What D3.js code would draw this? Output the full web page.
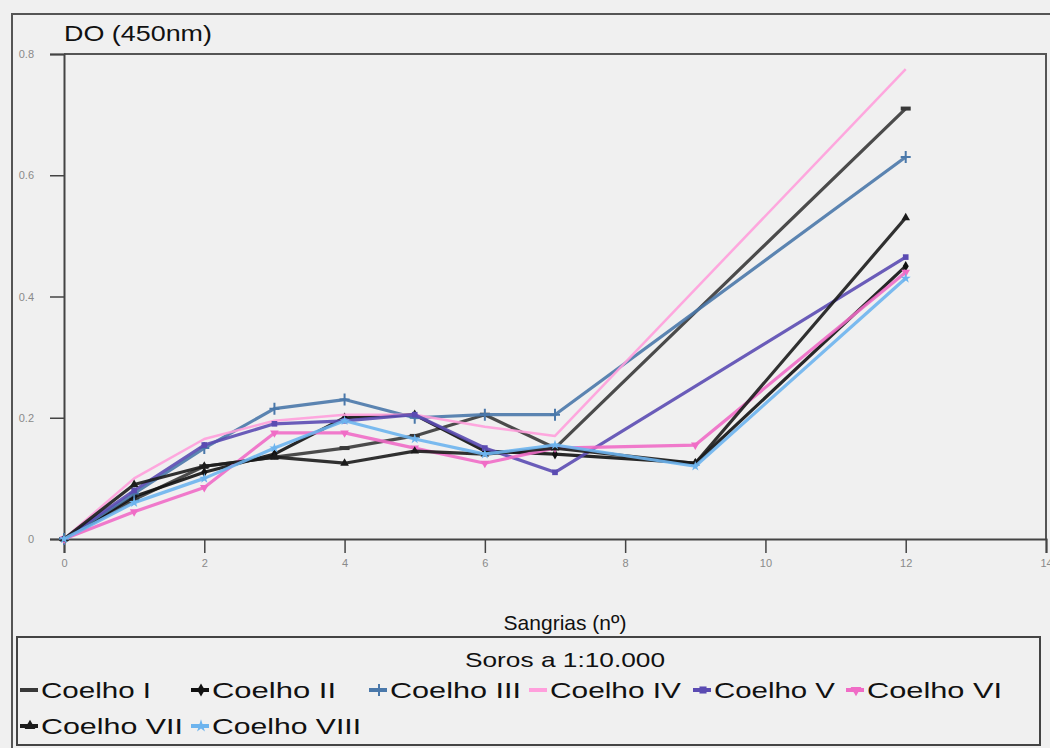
<!DOCTYPE html>
<html lang="pt">
  <head>
    <meta charset="UTF-8" />
    <title>DO (450nm) - Sangrias</title>
    <script src="https://d3js.org/d3.v7.min.js"></script>
    <style>
      body { margin: 0; background: #f0f0f0; }
      svg { display: block; font-family: "Liberation Sans", Arial, sans-serif; }
    </style>
  </head>
  <body>
    <svg id="chart" width="1050" height="748"></svg>
    <script>
      // bleedings (x) and optical density per rabbit; null = not measured
      const sangrias = [0, 1, 2, 3, 4, 5, 6, 7, 9, 12];
      const coelhoI = [0, 0.065, 0.12, 0.135, 0.15, 0.17, 0.205, 0.15, null, 0.71];
      const coelhoII = [0, 0.07, 0.11, 0.14, 0.2, 0.205, 0.145, 0.14, 0.125, 0.45];
      const coelhoIII = [0, 0.075, 0.15, 0.215, 0.23, 0.2, 0.205, 0.205, null, 0.63];
      const coelhoIV = [0, 0.1, 0.165, 0.195, 0.205, 0.205, 0.185, 0.17, null, 0.775];
      const coelhoV = [0, 0.08, 0.155, 0.19, 0.195, 0.205, 0.15, 0.11, null, 0.465];
      const coelhoVI = [0, 0.045, 0.085, 0.175, 0.175, 0.15, 0.125, 0.15, 0.155, 0.44];
      const coelhoVII = [0, 0.09, 0.12, 0.135, 0.125, 0.145, 0.14, 0.15, 0.125, 0.53];
      const coelhoVIII = [0, 0.06, 0.1, 0.15, 0.195, 0.165, 0.14, 0.155, 0.12, 0.43];

      const seriesNames = ["Coelho I", "Coelho II", "Coelho III", "Coelho IV",
        "Coelho V", "Coelho VI", "Coelho VII", "Coelho VIII"];
      const seriesValues = [coelhoI, coelhoII, coelhoIII, coelhoIV,
        coelhoV, coelhoVI, coelhoVII, coelhoVIII];
      const seriesColors = ["#383838", "#111111", "#4a78aa", "#ff9fdc",
        "#5b4bb2", "#f06cc6", "#1b1b1b", "#6db4ee"];
      const seriesSymbols = ["dash", d3.symbolDiamond, "cross", null,
        d3.symbolSquare, "tridown", d3.symbolTriangle, d3.symbolStar];

      const xTicks = [0, 2, 4, 6, 8, 10, 12, 14];
      const yTicks = [0, 0.2, 0.4, 0.6, 0.8];

      const svg = d3.select("#chart");

      // outer frame
      svg.append("rect")
        .attr("x", 12).attr("y", 14)
        .attr("width", 1060).attr("height", 760)
        .attr("fill", "#f0f0f0")
        .attr("stroke", "#555").attr("stroke-width", 2);

      const x = d3.scaleLinear().domain([0, 14]).range([64, 1046]);
      const y = d3.scaleLinear().domain([0, 0.8]).range([539, 54]);

      // plot box (top & right)
      svg.append("path")
        .attr("d", `M${x(0)},${y(0.8)}H${x(14)}V${y(0)}`)
        .attr("fill", "none").attr("stroke", "#555").attr("stroke-width", 2);

      const xAxis = svg.append("g")
        .attr("transform", `translate(0,${y(0)})`)
        .call(d3.axisBottom(x).tickValues(xTicks).tickSize(14).tickPadding(6)
          .tickFormat(d3.format("d")));
      const yAxis = svg.append("g")
        .attr("transform", `translate(${x(0)},0)`)
        .call(d3.axisLeft(y).tickValues(yTicks).tickSize(14).tickPadding(16)
          .tickFormat((d) => (d === 0 ? "0" : d3.format(".1f")(d))));

      [xAxis, yAxis].forEach((g) => {
        g.select(".domain").attr("stroke", "#444").attr("stroke-width", 2);
        g.selectAll(".tick line").attr("stroke", "#444").attr("stroke-width", 1.5);
        g.selectAll(".tick text").attr("fill", "#8a8a8a").attr("font-size", 11);
      });

      // axis titles
      svg.append("text")
        .attr("x", 64).attr("y", 41)
        .attr("font-size", 22)
        .attr("textLength", 148).attr("lengthAdjust", "spacingAndGlyphs")
        .attr("fill", "#111")
        .text("DO (450nm)");

      const xTitle = svg.append("text")
        .attr("x", 565).attr("y", 630)
        .attr("text-anchor", "middle")
        .attr("font-size", 21)
        .attr("fill", "#111");
      xTitle.append("tspan").text("Sangrias (n");
      xTitle.append("tspan").attr("font-size", 23).text("º");
      xTitle.append("tspan").text(")");

      function drawMarker(g, sym, color, cx, cy, size) {
        if (!sym) return;
        if (sym === "dash") {
          g.append("rect").attr("x", cx - 5).attr("y", cy - 2)
            .attr("width", 10).attr("height", 4).attr("fill", color);
        } else if (sym === "cross") {
          g.append("path")
            .attr("d", `M${cx - 5},${cy}H${cx + 5}M${cx},${cy - 6}V${cy + 6}`)
            .attr("stroke", color).attr("stroke-width", 2);
        } else if (sym === "tridown") {
          g.append("path")
            .attr("transform", `translate(${cx},${cy}) rotate(180)`)
            .attr("d", d3.symbol(d3.symbolTriangle, size)())
            .attr("fill", color);
        } else {
          g.append("path")
            .attr("transform", `translate(${cx},${cy})`)
            .attr("d", d3.symbol(sym, size)())
            .attr("fill", color);
        }
      }

      const line = d3.line().x((d) => x(d[0])).y((d) => y(d[1]));
      const plot = svg.append("g");

      seriesValues.forEach((vals, i) => {
        const pts = sangrias.map((s, j) => [s, vals[j]]).filter((p) => p[1] !== null);
        plot.append("path")
          .datum(pts)
          .attr("d", line)
          .attr("fill", "none")
          .attr("stroke", seriesColors[i])
          .attr("stroke-width", i === 3 ? 2.5 : 3.2)
          .attr("stroke-linejoin", "round")
          .attr("opacity", 0.9);
        const mg = plot.append("g");
        pts.forEach((p) => drawMarker(mg, seriesSymbols[i], seriesColors[i], x(p[0]), y(p[1]), 32));
      });

      // legend
      const legend = svg.append("g");
      legend.append("rect")
        .attr("x", 17).attr("y", 637).attr("width", 1023).attr("height", 108)
        .attr("fill", "#f0f0f0").attr("stroke", "#444").attr("stroke-width", 2);
      legend.append("text")
        .attr("x", 565).attr("y", 667)
        .attr("text-anchor", "middle").attr("font-size", 21)
        .attr("textLength", 200).attr("lengthAdjust", "spacingAndGlyphs")
        .attr("fill", "#111")
        .text("Soros a 1:10.000");

      const legendPos = [
        [20, 698], [191, 698], [369, 698], [529, 698], [693, 698], [846, 698],
        [20, 734], [191, 734]
      ];
      const legendWidths = [110, 124, 131, 131, 121, 135, 142, 149];

      seriesNames.forEach((name, i) => {
        const [lx, ly] = legendPos[i];
        const cy = ly - 8;
        legend.append("line")
          .attr("x1", lx).attr("x2", lx + 18)
          .attr("y1", cy).attr("y2", cy)
          .attr("stroke", seriesColors[i]).attr("stroke-width", 4);
        drawMarker(legend, seriesSymbols[i], seriesColors[i], lx + 10, cy, 50);
        legend.append("text")
          .attr("x", lx + 21).attr("y", ly)
          .attr("font-size", 22)
          .attr("textLength", legendWidths[i]).attr("lengthAdjust", "spacingAndGlyphs")
          .attr("fill", "#111")
          .text(name);
      });
    </script>
  </body>
</html>
